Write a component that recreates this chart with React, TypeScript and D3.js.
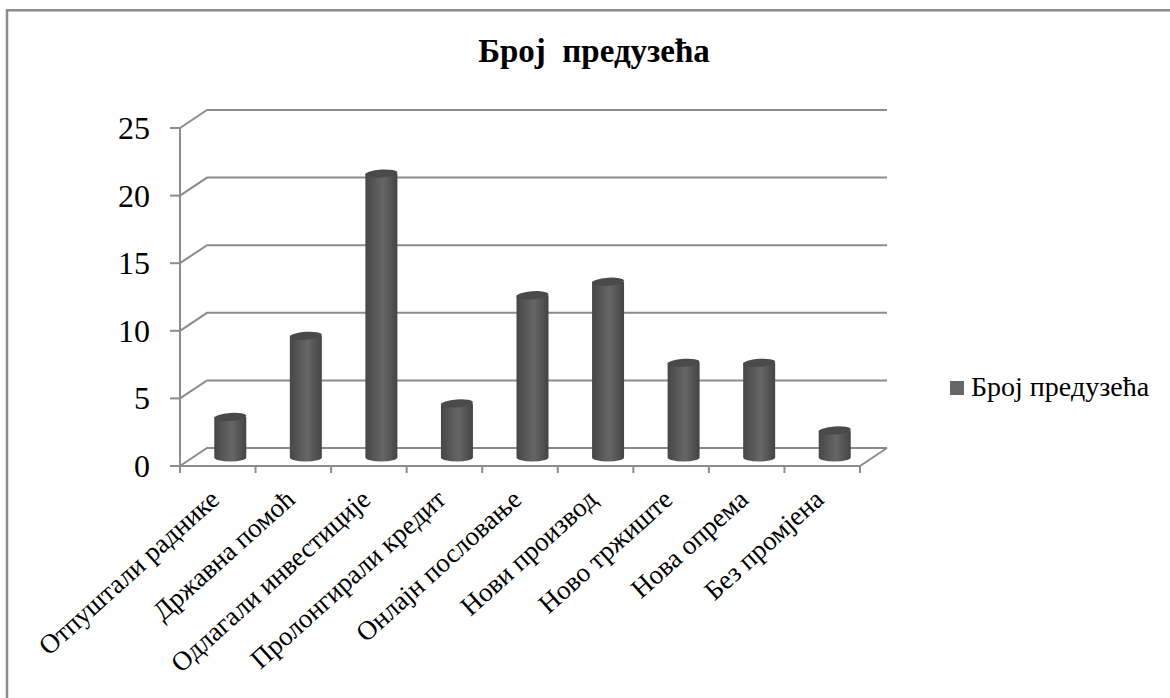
import React from "react";
import * as d3 from "d3";

const categories = [
  "Отпуштали раднике",
  "Државна помоћ",
  "Одлагали инвестиције",
  "Пролонгирали кредит",
  "Онлајн пословање",
  "Нови производ",
  "Ново тржиште",
  "Нова опрема",
  "Без промјена",
];
const counts = [3, 9, 21, 4, 12, 13, 7, 7, 2];
const yTicks = [0, 5, 10, 15, 20, 25];
const title = "Број  предузећа";
const seriesName = "Број предузећа";

const W = 1170;
const H = 698;
const FONT = "'Liberation Serif', 'Times New Roman', serif";
const AXIS = "#8c8c8c";

// Depth of the pseudo-3D floor and back wall
const DX = 27;
const DY = -18;

const x = d3.scaleBand<number>().domain(d3.range(categories.length)).range([180, 860]);
const y = d3.scaleLinear().domain([0, 25]).range([466, 128]);

const BAR_W = 32;
const RY = 4;
// Bars stand midway into the floor's depth
const BAR_DX = 12.5;
const BAR_DY = -8.5;

export default function App() {
  const left = x.range()[0];
  const right = x.range()[1];
  return (
    <svg
      width={W}
      height={H}
      viewBox={`0 0 ${W} ${H}`}
      style={{ position: "absolute", left: 0, top: 0, background: "#fff" }}
    >
      <defs>
        <linearGradient id="cyl" x1="0" x2="1" y1="0" y2="0">
          <stop offset="0" stopColor="#474747" />
          <stop offset="0.55" stopColor="#666666" />
          <stop offset="1" stopColor="#444444" />
        </linearGradient>
      </defs>

      {/* chart frame: only its top and left edges fall inside the canvas */}
      <path d={`M7,${H}V10.2H${W}`} fill="none" stroke={AXIS} strokeWidth={2.5} />

      <text x={594} y={62} textAnchor="middle" fontFamily={FONT} fontSize={33} fontWeight="bold" fill="#000" xmlSpace="preserve">
        {title}
      </text>

      {/* gridlines on the back wall, folding down the side wall */}
      {yTicks.map((t) => (
        <path
          key={t}
          d={`M${left},${y(t)}L${left + DX},${y(t) + DY}H${right + DX}`}
          fill="none"
          stroke={AXIS}
          strokeWidth={2}
        />
      ))}

      {/* floor front and right edges, plus value axis */}
      <path d={`M${left},${y(0)}H${right}L${right + DX},${y(0) + DY}`} fill="none" stroke={AXIS} strokeWidth={2} />
      <path d={`M${left},${y(25)}V${y(0) + 7}`} fill="none" stroke={AXIS} strokeWidth={2} />

      {yTicks.map((t) => (
        <g key={t}>
          <line x1={left - 10} x2={left} y1={y(t)} y2={y(t)} stroke={AXIS} strokeWidth={2} />
          <text x={150} y={y(t) + 11} textAnchor="end" fontFamily={FONT} fontSize={32} fill="#000">
            {t}
          </text>
        </g>
      ))}

      {d3.range(categories.length + 1).map((i) => {
        const tx = left + i * x.step();
        return <line key={i} x1={tx} x2={tx} y1={y(0)} y2={y(0) + 7} stroke={AXIS} strokeWidth={2} />;
      })}

      {/* cylinders */}
      {counts.map((v, i) => {
        const cx = (x(i) as number) + x.bandwidth() / 2 + BAR_DX;
        const x0 = cx - BAR_W / 2;
        const x1 = cx + BAR_W / 2;
        const yBase = y(0) + BAR_DY;
        const yTop = y(v) + BAR_DY;
        return (
          <g key={categories[i]}>
            <path
              d={`M${x0},${yTop}V${yBase}A${BAR_W / 2},${RY} 0 0 0 ${x1},${yBase}V${yTop}Z`}
              fill="url(#cyl)"
            />
            <ellipse
              cx={cx}
              cy={yTop}
              rx={BAR_W / 2}
              ry={RY}
              fill="#4a4a4a"
              transform={`rotate(-4 ${cx} ${yTop})`}
            />
          </g>
        );
      })}

      {/* rotated category labels */}
      {categories.map((c, i) => {
        const tx = (x(i) as number) + x.bandwidth() / 2 - 1;
        return (
          <text
            key={c}
            transform={`translate(${tx},${y(0) + 31}) rotate(-42)`}
            textAnchor="end"
            dominantBaseline="middle"
            fontFamily={FONT}
            fontSize={27}
            fill="#000"
          >
            {c}
          </text>
        );
      })}

      {/* legend */}
      <rect x={950} y={381} width={14} height={14} fill="#666666" />
      <text x={971} y={396} fontFamily={FONT} fontSize={28} fill="#000">
        {seriesName}
      </text>
    </svg>
  );
}
